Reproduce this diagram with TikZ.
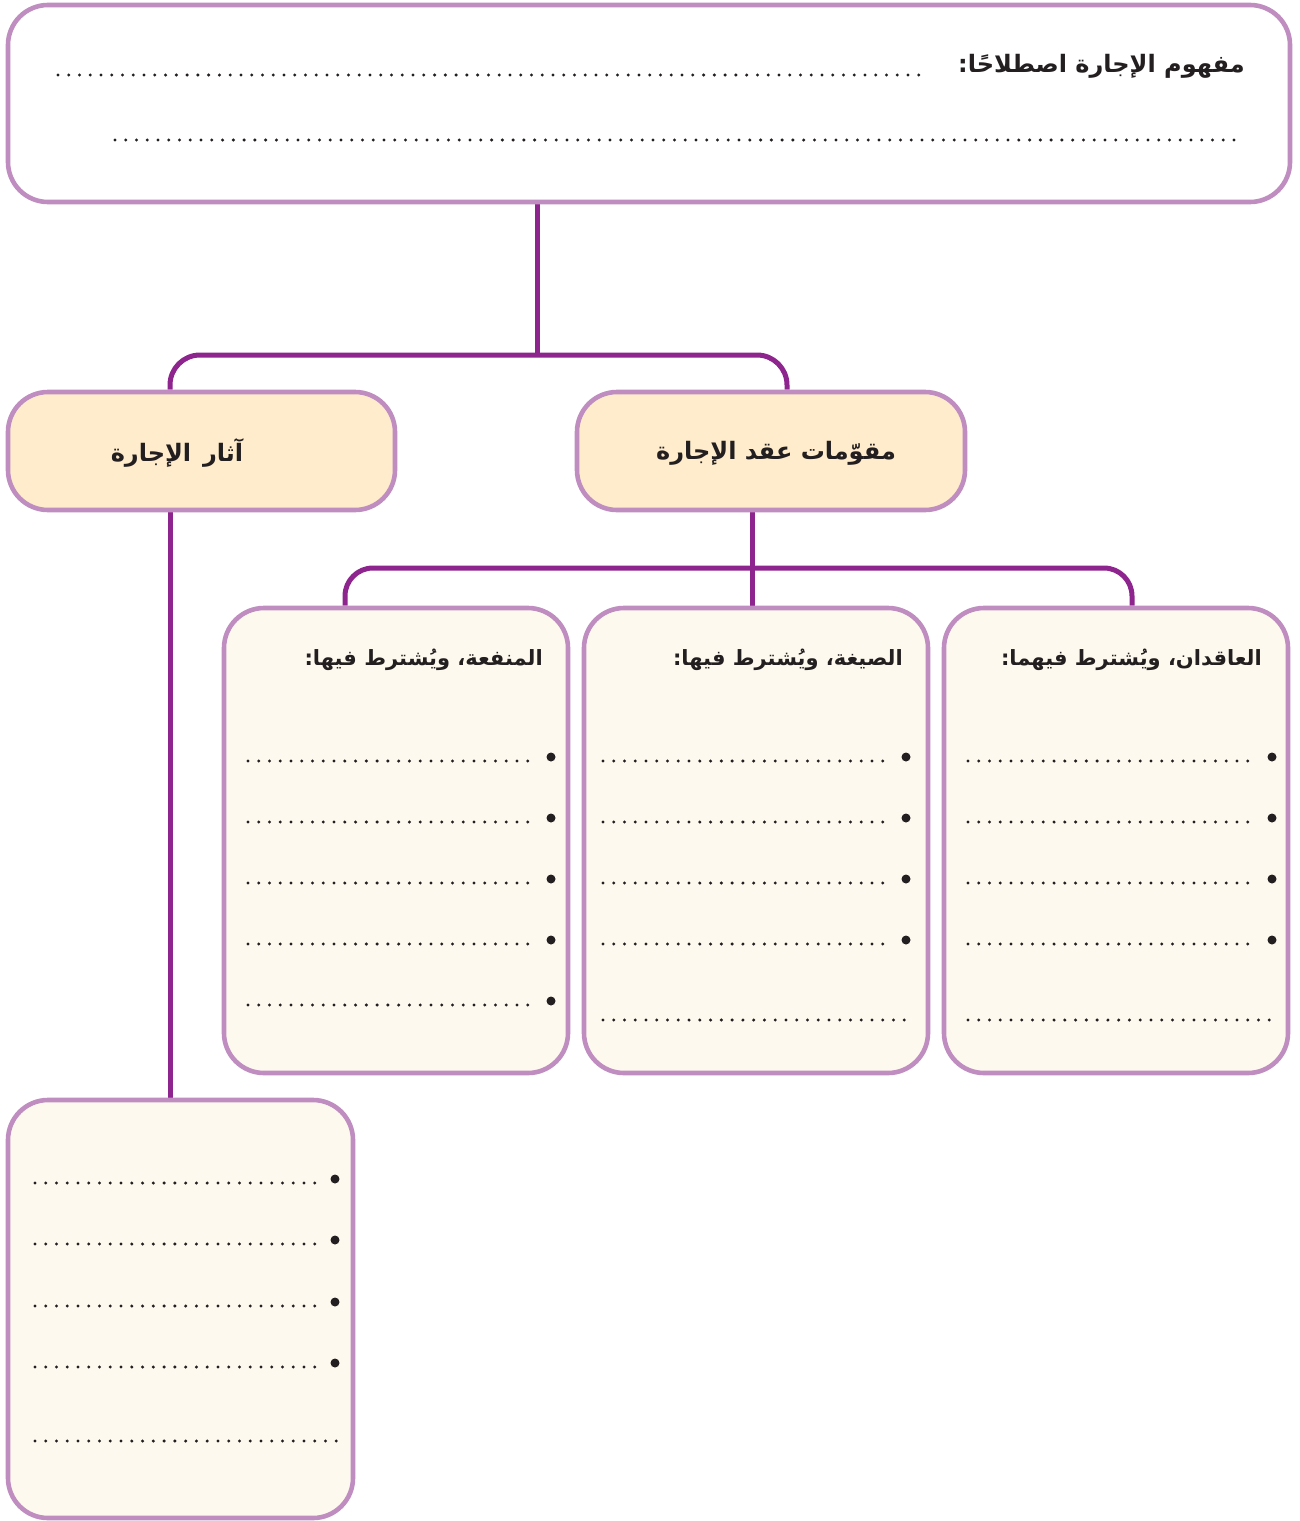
\documentclass[tikz,border=0pt]{standalone}
\usepackage{fontspec}
\newfontfamily\arabicfont[Script=Arabic]{DejaVu Sans}
\TeXXeTstate=1
\usetikzlibrary{backgrounds}
\definecolor{boxborder}{RGB}{191,141,192}
\definecolor{connc}{RGB}{142,36,142}
\definecolor{headfill}{RGB}{254,236,204}
\definecolor{bodyfill}{RGB}{254,249,238}
\definecolor{inkc}{RGB}{35,31,32}
\tikzset{
  box/.style={draw=boxborder, line width=4.6pt, rounded corners=40pt, inner sep=0pt},
  headbox/.style={box, fill=headfill},
  bodybox/.style={box, fill=bodyfill},
  conn/.style={draw=connc, line width=5pt},
  dotrow/.style={line width=3.3pt, line cap=round, dash pattern=on 0pt off 10.76pt, draw=inkc},
  bullet/.style={fill=inkc},
  artext/.style={font=\arabicfont\bfseries\fontsize{24}{28}\selectfont, inner sep=0pt, text=inkc},
  subtext/.style={font=\arabicfont\bfseries\fontsize{21}{25}\selectfont, inner sep=0pt, text=inkc},
}
\begin{document}
\begin{tikzpicture}[x=1pt,y=-1pt]
\useasboundingbox (0,0) rectangle (1299,1521);
% boxes
\node[bodybox, fill=white, minimum width=1282pt, minimum height=197pt] (top) at (649,103.5) {};
\node[headbox, minimum width=387pt, minimum height=118pt] (athar) at (201.5,451) {};
\node[headbox, minimum width=388pt, minimum height=118pt] (muq) at (771,451) {};
\node[bodybox, minimum width=344pt, minimum height=465pt] (b1) at (396,840.5) {};
\node[bodybox, minimum width=344pt, minimum height=465pt] (b2) at (756,840.5) {};
\node[bodybox, minimum width=344pt, minimum height=465pt] (b3) at (1116,840.5) {};
\node[bodybox, minimum width=345pt, minimum height=418pt] (b4) at (180.5,1309) {};
% junction coordinates
\coordinate (j1) at (537,355);
\coordinate (j2) at (752,568);
% connectors
\begin{pgfonlayer}{background}
\draw[conn] (top.south -| j1) -- (j1);
\draw[conn, rounded corners=30pt] ([xshift=-31.5pt]athar.north) |- (j1) -| ([xshift=16pt]muq.north);
\draw[conn] (muq.south -| j2) -- (b2.north -| j2);
\draw[conn, rounded corners=28pt] ([xshift=-51pt]b1.north) |- (j2) -| ([xshift=16pt]b3.north);
\draw[conn] ([xshift=-31.5pt]athar.south) -- ([xshift=-31.5pt]athar.south |- b4.north);
\end{pgfonlayer}
% texts
\node[artext, anchor=east] (t0) at (1245,66) {\beginR مفهوم الإجارة اصطلاحًا:\endR};
\node[artext] (t1) at (177,453) {\beginR آثار\hspace{12pt}الإجارة\endR};
\node[artext] (t2) at (776,453) {\beginR مقوّمات عقد الإجارة\endR};
\node[subtext, anchor=east] (t3) at (1262,660) {\beginR العاقدان، ويُشترط فيهما:\endR};
\node[subtext, anchor=east] (t4) at (903,660) {\beginR الصيغة، ويُشترط فيها:\endR};
\node[subtext, anchor=east] (t5) at (543,660) {\beginR المنفعة، ويُشترط فيها:\endR};
% dotted lines top
\draw[dotrow] (58,75) -- (926,75);
\draw[dotrow] (115,140) -- (1241,140);
% bullets and dotted rows in boxes
\foreach \bx/\dl/\dr in {551/248/533, 906/603/888, 1272/968/1253}{
  \foreach \yy in {757,818,879,940}{
    \fill[bullet] (\bx,\yy) circle (4.5pt);
    \draw[dotrow] (\dl,\yy+4) -- (\dr,\yy+4);
  }
}
\fill[bullet] (551,1001) circle (4.5pt);
\draw[dotrow] (248,1005) -- (533,1005);
\draw[dotrow] (603,1020) -- (910,1020);
\draw[dotrow] (968,1020) -- (1275,1020);
\foreach \yy in {1179,1240,1302,1363}{
  \fill[bullet] (335,\yy) circle (4.5pt);
  \draw[dotrow] (35,\yy+4) -- (316,\yy+4);
}
\draw[dotrow] (35,1441) -- (340,1441);
\end{tikzpicture}
\end{document}
